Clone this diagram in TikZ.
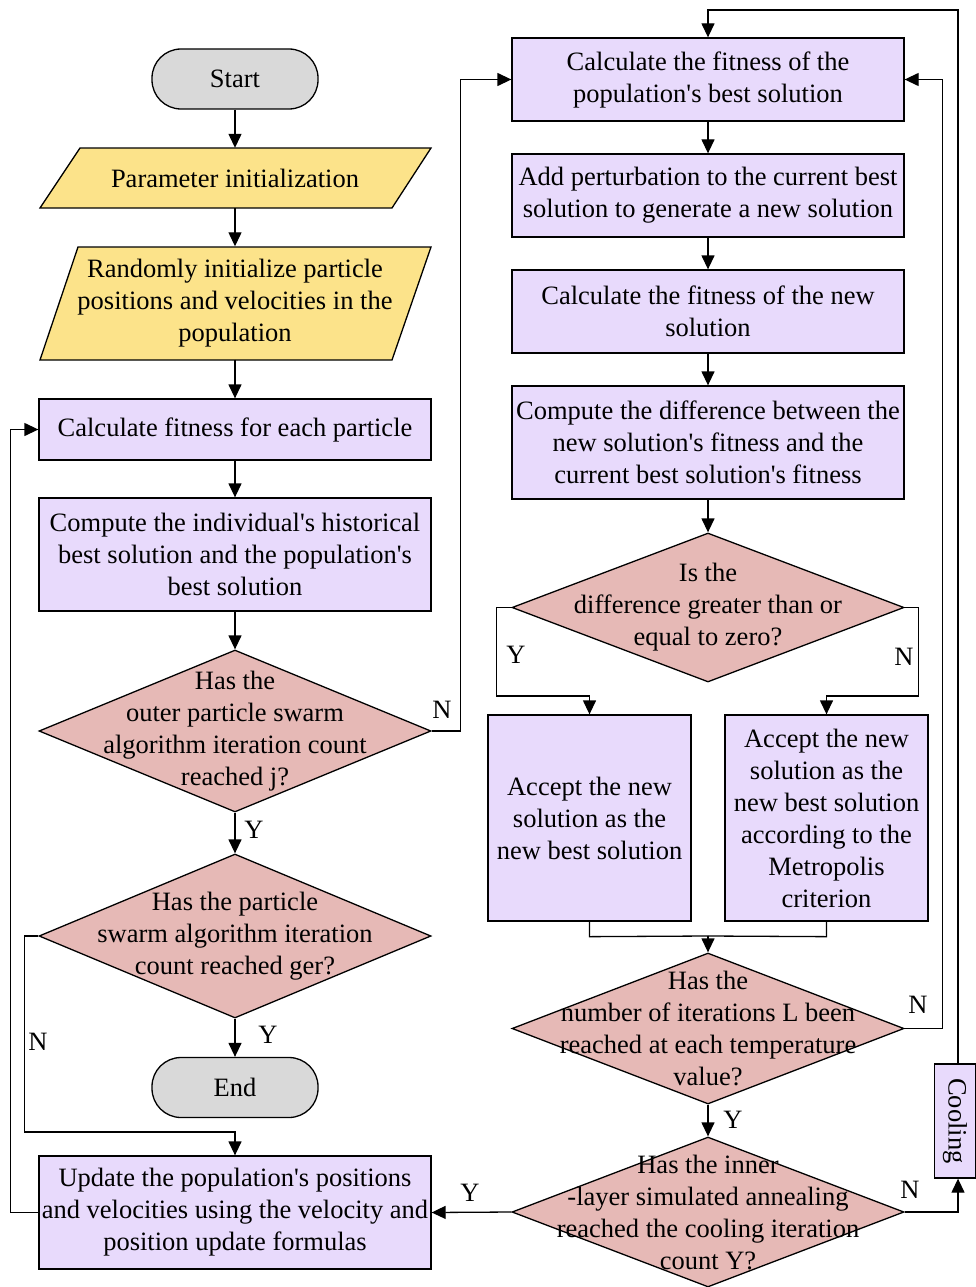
\documentclass[tikz,border=0pt]{standalone}
\usepackage{fontspec}
\setmainfont{Liberation Serif}
\usetikzlibrary{shapes.geometric,arrows.meta,calc}
\definecolor{lav}{HTML}{E8DAFC}
\definecolor{yel}{HTML}{FCE38A}
\definecolor{ros}{HTML}{E6B9B6}
\definecolor{gry}{HTML}{D9D9D9}
\newcommand{\ap}{\textquotesingle}
\tikzset{
  every node/.style={font=\fontsize{26.5}{32}\selectfont},
  ln/.style={line width=1.3pt},
  arr/.style={ln,-{Triangle[length=14pt,width=13pt]}},
  procbox/.style={draw,ln,fill=lav,rectangle,inner sep=0pt,align=center},
  termbox/.style={draw,ln,fill=gry,rounded corners=29pt,minimum width=166pt,minimum height=60pt,inner sep=0pt},
  decbox/.style={draw,ln,fill=ros,diamond,inner sep=0pt,minimum width=392pt},
  txt/.style={align=center,inner sep=0pt},
  lab/.style={inner sep=0pt},
}
\begin{document}
\begin{tikzpicture}[x=1pt,y=-1pt]
\useasboundingbox (0,0) rectangle (976,1287);
% ---------- left column ----------
\node[termbox] (start) at (235,79) {Start};
\fill[yel] (80,148) -- (431,148) -- (392,208) -- (40,208) -- cycle;
\draw[ln] (80,148) -- (431,148) -- (392,208) -- (40,208) -- cycle;
\node[txt,minimum width=352pt,minimum height=60pt] (par) at (235,178) {Parameter initialization};
\fill[yel] (78,247) -- (431,247) -- (392,360) -- (40,360) -- cycle;
\draw[ln] (78,247) -- (431,247) -- (392,360) -- (40,360) -- cycle;
\node[txt,minimum width=352pt,minimum height=113pt] (rnd) at (235,303) {Randomly initialize particle\\positions and velocities in the\\population};
\node[procbox,minimum width=392pt,minimum height=61pt] (calc) at (235,429.5) {Calculate fitness for each particle};
\node[procbox,minimum width=392pt,minimum height=113pt] (comp) at (235,554.5) {Compute the individual\ap s historical\\best solution and the population\ap s\\best solution};
\node[decbox,minimum height=162pt] (d1) at (235,731) {};
\node[txt] at (d1) {Has the\\outer particle swarm\\algorithm iteration count\\reached j?};
\node[decbox,minimum height=164pt] (d2) at (235,936) {};
\node[txt] at (d2) {Has the particle\\swarm algorithm iteration\\count reached ger?};
\node[termbox] (end) at (235,1087.5) {End};
\node[procbox,minimum width=392pt,minimum height=113pt] (upd) at (235,1212.5) {Update the population\ap s positions\\and velocities using the velocity and\\position update formulas};
% ---------- right column ----------
\node[procbox,minimum width=392pt,minimum height=83pt] (r1) at (708,79.5) {Calculate the fitness of the\\population\ap s best solution};
\node[procbox,minimum width=392pt,minimum height=83pt] (r2) at (708,195.5) {Add perturbation to the current best\\solution to generate a new solution};
\node[procbox,minimum width=392pt,minimum height=83pt] (r3) at (708,311.5) {Calculate the fitness of the new\\solution};
\node[procbox,minimum width=392pt,minimum height=113pt] (r4) at (708,442.5) {Compute the difference between the\\new solution\ap s fitness and the\\current best solution\ap s fitness};
\node[decbox,minimum height=149pt] (d3) at (708,607.5) {};
\node[txt] at (d3) {Is the\\difference greater than or\\equal to zero?};
\node[procbox,minimum width=203pt,minimum height=206pt] (ay) at (589.5,818) {Accept the new\\solution as the\\new best solution};
\node[procbox,minimum width=203pt,minimum height=206pt] (an) at (826.5,818) {Accept the new\\solution as the\\new best solution\\according to the\\Metropolis\\criterion};
\node[decbox,minimum height=151pt] (d4) at (708,1028.5) {};
\node[txt] at (d4) {Has the\\number of iterations L been\\reached at each temperature\\value?};
\node[decbox,minimum height=150pt] (d5) at (708,1212) {};
\node[txt] at (d5) {Has the inner\\-layer simulated annealing\\reached the cooling iteration\\count Y?};
\node[procbox,rotate=-90,minimum width=114pt,minimum height=41pt] (cool) at (955,1121) {Cooling};
% ---------- connectors left ----------
\draw[arr] (start) -- (par);
\draw[arr] (par) -- (rnd);
\draw[arr] (rnd) -- (calc);
\draw[arr] (calc) -- (comp);
\draw[arr] (comp) -- (d1);
\draw[arr] (d1.east) -- ++(29,0) |- (r1.west);
\node[lab] at (442,710) {N};
\draw[arr] (d1) -- (d2);
\node[lab] at (254,830) {Y};
\draw[arr] (d2) -- (end);
\node[lab] at (268,1035) {Y};
\coordinate (c1) at (25,1132);
\draw[arr] (d2.west) -- ++(-14,0) |- (c1) -| (upd.north);
\node[lab] at (38,1042) {N};
\draw[arr] (upd.west) -- ++(-28,0) |- (calc.west);
% ---------- connectors right ----------
\draw[arr] (r1) -- (r2);
\draw[arr] (r2) -- (r3);
\draw[arr] (r3) -- (r4);
\draw[arr] (r4) -- (d3);
\coordinate (yj) at (497,696);
\draw[arr] (d3.west) -- ++(-15,0) |- (yj) -| (ay.north);
\node[lab] at (516,655) {Y};
\coordinate (nj) at (918,696);
\draw[arr] (d3.east) -- ++(14,0) |- (nj) -| (an.north);
\node[lab] at (904,657) {N};
\coordinate (mj) at (708,936);
\draw[ln] (ay.south) -- ++(0,15) -- (mj);
\draw[ln] (an.south) -- ++(0,15) -- (mj);
\draw[arr] (mj) -- (d4.north);
\draw[arr] (d4.east) -- ++(38,0) |- (r1.east);
\node[lab] at (918,1005) {N};
\draw[arr] (d4) -- (d5);
\node[lab] at (733,1120) {Y};
\draw[arr] (d5.west) -- (upd.east);
\node[lab] at (470,1193) {Y};
\draw[arr] (d5.east) -| ($(cool.east)+(3,0)$);
\node[lab] at (910,1190) {N};
\coordinate (tj) at (958,10);
\draw[arr] ($(cool.west)+(3,0)$) -- (tj) -| (r1.north);
\end{tikzpicture}
\end{document}
